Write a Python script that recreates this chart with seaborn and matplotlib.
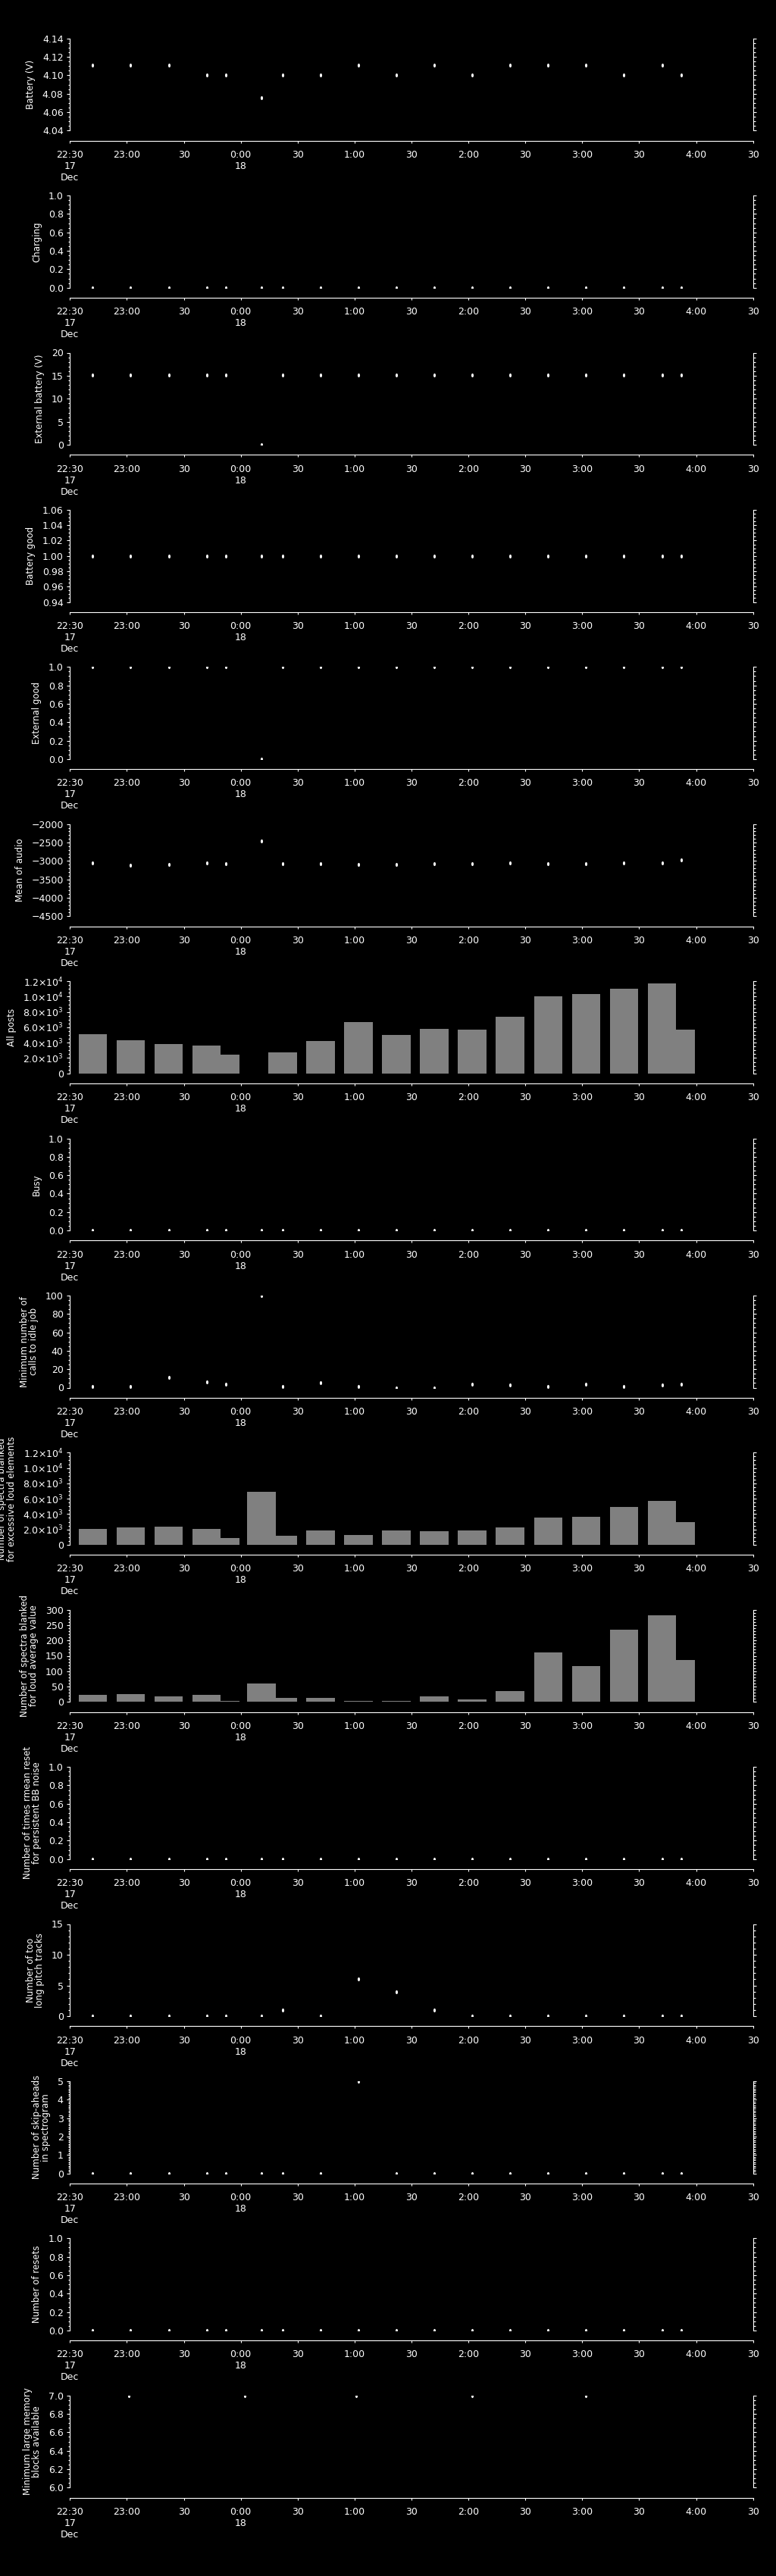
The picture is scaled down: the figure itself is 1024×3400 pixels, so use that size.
import numpy as np
import pandas as pd
import matplotlib
matplotlib.use("Agg")
import matplotlib.pyplot as plt
import matplotlib.dates as mdates
from matplotlib.ticker import AutoMinorLocator, NullLocator
import seaborn as sns

# ---------------------------------------------------------------- data
sample_times = [
    "2013-12-17 22:42", "2013-12-17 23:02", "2013-12-17 23:22", "2013-12-17 23:42",
    "2013-12-17 23:52", "2013-12-18 00:11", "2013-12-18 00:22", "2013-12-18 00:42",
    "2013-12-18 01:02", "2013-12-18 01:22", "2013-12-18 01:42", "2013-12-18 02:02",
    "2013-12-18 02:22", "2013-12-18 02:42", "2013-12-18 03:02", "2013-12-18 03:22",
    "2013-12-18 03:42", "2013-12-18 03:52",
]
memory_times = [
    "2013-12-17 23:01", "2013-12-18 00:02", "2013-12-18 01:01",
    "2013-12-18 02:02", "2013-12-18 03:02",
]

battery_v = [4.111, 4.111, 4.111, 4.100, 4.100, 4.076, 4.100, 4.100, 4.111,
             4.100, 4.111, 4.100, 4.111, 4.111, 4.111, 4.100, 4.111, 4.100]
charging = [0, 0, 0, 0, 0, 0, 0, 0, 0, 0, 0, 0, 0, 0, 0, 0, 0, 0]
external_battery_v = [15.1, 15.1, 15.1, 15.1, 15.1, 0.0, 15.2, 15.1, 15.1,
                      15.1, 15.1, 15.1, 15.1, 15.1, 15.1, 15.1, 15.2, 15.1]
battery_good = [1, 1, 1, 1, 1, 1, 1, 1, 1, 1, 1, 1, 1, 1, 1, 1, 1, 1]
external_good = [1, 1, 1, 1, 1, 0, 1, 1, 1, 1, 1, 1, 1, 1, 1, 1, 1, 1]
mean_audio = [-3048, -3122, -3092, -3063, -3070, -2462, -3070, -3070, -3092,
              -3100, -3085, -3070, -3048, -3070, -3070, -3048, -3056, -2975]
all_posts = [5070, 4280, 3790, 3600, 2420, -80, 2710, 4190, 6640,
             4970, 5760, 5660, 7420, 10070, 10370, 11050, 11740, 5660]
busy = [0, 0, 0, 0, 0, 0, 0, 0, 0, 0, 0, 0, 0, 0, 0, 0, 0, 0]
min_idle_calls = [1, 1, 11, 6, 4, 100, 1, 5, 1, 0, 0, 4, 3, 1, 4, 1, 3, 4]
blanked_loud_elements = [2070, 2270, 2370, 2070, 890, 6900, 1180, 1870, 1280,
                         1870, 1780, 1870, 2270, 3550, 3650, 4930, 5720, 2960]
blanked_loud_average = [24, 26, 17, 22, 2, 61, 12, 12, 4,
                        2, 17, 7, 36, 160, 116, 235, 282, 136]
rmean_resets = [0, 0, 0, 0, 0, 0, 0, 0, 0, 0, 0, 0, 0, 0, 0, 0, 0, 0]
long_pitch_tracks = [0, 0, 0, 0, 0, 0, 1, 0, 6, 4, 1, 0, 0, 0, 0, 0, 0, 0]
skip_aheads = [0, 0, 0, 0, 0, 0, 0, 0, 5, 0, 0, 0, 0, 0, 0, 0, 0, 0]
resets = [0, 0, 0, 0, 0, 0, 0, 0, 0, 0, 0, 0, 0, 0, 0, 0, 0, 0]
min_memory_blocks = [7.0, 7.0, 7.0, 7.0, 7.0]

x_tick_labels = ["22:30\n17\nDec", "23:00", "30", "0:00\n18", "30", "1:00", "30",
                 "2:00", "30", "3:00", "30", "4:00", "30"]

# ---------------------------------------------------------------- style
sns.set_theme(style="ticks", rc={
    "figure.facecolor": "black", "axes.facecolor": "black",
    "savefig.facecolor": "black", "axes.edgecolor": "white",
    "axes.labelcolor": "white", "text.color": "white",
    "xtick.color": "white", "ytick.color": "white",
    "axes.grid": False, "axes.linewidth": 0.8,
})
plt.rcParams["font.family"] = ["DejaVu Sans"]
plt.rcParams["axes.unicode_minus"] = True

t_samples = mdates.date2num(pd.to_datetime(sample_times))
t_memory = mdates.date2num(pd.to_datetime(memory_times))
t_start = mdates.date2num(pd.Timestamp("2013-12-17 22:30"))
t_end = mdates.date2num(pd.Timestamp("2013-12-18 04:30"))
half_hour = 30.0 / 1440.0
bar_width = 15.0 / 1440.0

theta = np.linspace(0, 2 * np.pi, 25)
dot_marker = np.column_stack([0.6 * np.cos(theta), np.sin(theta)])


def fixed(decimals):
    return lambda v: f"{v:.{decimals}f}".replace("-", "\u2212")


def sci(v):
    if v == 0:
        return "0"
    exp = int(np.floor(np.log10(abs(v))))
    return rf"{v / 10**exp:.1f}$\times$10$^{{{exp}}}$"


# label, kind, x, y, (ymin, ymax), major step, minor subdivisions, formatter
panels = [
    ("Battery (V)", "dot", t_samples, battery_v, (4.04, 4.14), 0.02, 4, fixed(2)),
    ("Charging", "dot", t_samples, charging, (0, 1), 0.2, 4, fixed(1)),
    ("External battery (V)", "dot", t_samples, external_battery_v, (0, 20), 5, 5, fixed(0)),
    ("Battery good", "dot", t_samples, battery_good, (0.94, 1.06), 0.02, 4, fixed(2)),
    ("External good", "dot", t_samples, external_good, (0, 1), 0.2, 4, fixed(1)),
    ("Mean of audio", "dot", t_samples, mean_audio, (-4500, -2000), 500, 5, fixed(0)),
    ("All posts", "bar", t_samples, all_posts, (0, 12000), 2000, 4, sci),
    ("Busy", "dot", t_samples, busy, (0, 1), 0.2, 4, fixed(1)),
    ("Minimum number of\ncalls to idle job", "dot", t_samples, min_idle_calls,
     (0, 100), 20, 4, fixed(0)),
    ("Number of spectra blanked\nfor excessive loud elements", "bar", t_samples,
     blanked_loud_elements, (0, 12000), 2000, 4, sci),
    ("Number of spectra blanked\nfor loud average value", "bar", t_samples,
     blanked_loud_average, (0, 300), 50, 5, fixed(0)),
    ("Number of times rmean reset\nfor persistent BB noise", "dot", t_samples,
     rmean_resets, (0, 1), 0.2, 4, fixed(1)),
    ("Number of too\nlong pitch tracks", "dot", t_samples, long_pitch_tracks,
     (0, 15), 5, 5, fixed(0)),
    ("Number of skip-aheads\nin spectrogram", "dot", t_samples, skip_aheads,
     (0, 5), 1, 10, fixed(0)),
    ("Number of resets", "dot", t_samples, resets, (0, 1), 0.2, 4, fixed(1)),
    ("Minimum large memory\nblocks available", "dot", t_memory, min_memory_blocks,
     (6.0, 7.0), 0.2, 4, fixed(1)),
]

# ---------------------------------------------------------------- figure
W, H = 1024, 3400
fig = plt.figure(figsize=(W / 100, H / 100), dpi=100)

left_px, right_px = 92.3, 993.7
first_top_px, pitch_px, plot_h_px = 50.7, 207.4, 121.6

x_ticks = np.arange(t_start, t_end + half_hour / 2, half_hour)

for i, (label, kind, xs, ys, (ylo, yhi), step, nminor, fmt) in enumerate(panels):
    top = first_top_px + i * pitch_px
    ax = fig.add_axes([left_px / W, 1 - (top + plot_h_px) / H,
                       (right_px - left_px) / W, plot_h_px / H])
    ax.set_facecolor("black")

    if kind == "bar":
        ax.bar(xs, ys, width=bar_width, align="center", color="#808080",
               linewidth=0)
    else:
        sns.scatterplot(x=xs, y=ys, ax=ax, color="white", marker=dot_marker,
                        s=14, linewidth=0, legend=False)

    ax.set_xlim(t_start, t_end)
    ax.set_ylim(ylo, yhi)

    yt = np.arange(ylo, yhi + step / 2, step)
    ax.set_yticks(yt, labels=[fmt(v) for v in yt])
    ax.yaxis.set_minor_locator(AutoMinorLocator(nminor))
    ax.set_xticks(x_ticks, labels=x_tick_labels)
    ax.xaxis.set_minor_locator(NullLocator())

    ax.tick_params(axis="y", which="both", direction="out", left=True,
                   right=True, labelright=False, width=0.8, colors="white")
    ax.tick_params(axis="y", which="major", length=3.2, pad=3, labelsize=9)
    ax.tick_params(axis="y", which="minor", length=1.8)
    ax.tick_params(axis="x", which="major", direction="out", length=2.2,
                   width=0.8, pad=6.5, labelsize=9, colors="white")
    for lbl in ax.get_xticklabels():
        lbl.set_linespacing(0.95)

    for side in ("left", "right", "bottom"):
        ax.spines[side].set_visible(True)
        ax.spines[side].set_color("white")
        ax.spines[side].set_linewidth(0.8)
    ax.spines["top"].set_visible(False)
    ax.spines["bottom"].set_position(("outward", 9.6))

    ax.set_xlabel("")
    ax.set_ylabel(label, fontsize=8.5, labelpad=6, linespacing=0.95,
                  color="white")

fig.savefig("out.png", dpi=100, facecolor="black")
